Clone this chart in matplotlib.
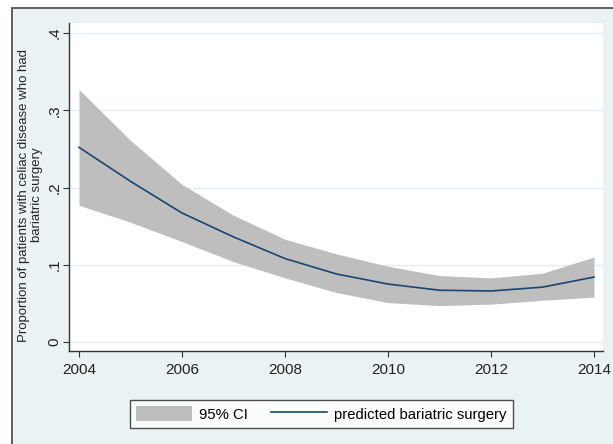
import matplotlib.pyplot as plt
from matplotlib.patches import Rectangle

plt.rcParams['font.family'] = ['Liberation Sans', 'DejaVu Sans']

# Predicted proportion and 95% CI
years = [2004, 2005, 2006, 2007, 2008, 2009, 2010, 2011, 2012, 2013, 2014]
predicted = [0.252, 0.208, 0.167, 0.136, 0.108, 0.088, 0.075, 0.067, 0.066, 0.071, 0.084]
ci_upper = [0.327, 0.261, 0.204, 0.164, 0.133, 0.114, 0.098, 0.086, 0.083, 0.089, 0.110]
ci_lower = [0.177, 0.155, 0.130, 0.104, 0.083, 0.064, 0.051, 0.047, 0.049, 0.054, 0.058]

y_ticks = [0, 0.1, 0.2, 0.3, 0.4]
y_tick_labels = ['0', '.1', '.2', '.3', '.4']
x_ticks = [2004, 2006, 2008, 2010, 2012, 2014]

bg = '#eaf2f3'
fig = plt.figure(figsize=(6.13, 4.44), dpi=100)
fig.patch.set_facecolor('white')

# Stata-style outer graph region, behind the axes
outer = Rectangle((12 / 613, -0.01), 1.0, 1 - 8 / 444 + 0.01,
                  transform=fig.transFigure, facecolor=bg,
                  edgecolor='#444444', linewidth=1.2, zorder=-5)
fig.add_artist(outer)

ax = fig.add_axes([69 / 613, 1 - 351 / 444, (603 - 69) / 613, (351 - 23) / 444])
ax.set_zorder(1)
ax.set_facecolor('white')

ax.fill_between(years, ci_lower, ci_upper, color='#bebebe', linewidth=0,
                label='95% CI', zorder=2)
ax.plot(years, predicted, color='#1a476f', linewidth=1.2,
        label='predicted bariatric surgery', zorder=3)

ax.set_xlim(2003.806, 2014.175)
ax.set_ylim(-0.0117, 0.413)
ax.set_xticks(x_ticks)
ax.set_yticks(y_ticks)
ax.set_yticklabels(y_tick_labels, rotation=90, va='center')
ax.tick_params(axis='both', labelsize=11, color='#333333', length=4.3,
               labelcolor='#222222')
ax.tick_params(axis='y', pad=1.0)
ax.tick_params(axis='x', pad=4.5)

ax.grid(axis='y', color='#e3eef0', linewidth=1, zorder=1)
ax.set_axisbelow(True)
for side in ['top', 'right']:
    ax.spines[side].set_visible(False)
for side in ['left', 'bottom']:
    ax.spines[side].set_color('#333333')
    ax.spines[side].set_linewidth(1)

ax.set_ylabel('Proportion of patients with celiac disease who had\nbariatric surgery',
              fontsize=9.5, color='#222222', linespacing=1.2,
              va='center', multialignment='center')
ax.yaxis.set_label_coords(-0.072, 0.4756)

leg = fig.legend(loc='center', bbox_to_anchor=(0.524, 0.0676), ncol=2,
                 frameon=True, fancybox=False, fontsize=10.7,
                 handlelength=3.75, handleheight=1.1, columnspacing=1.6,
                 handletextpad=0.45, borderpad=0.45, borderaxespad=0)
leg.get_frame().set_edgecolor('#222222')
leg.get_frame().set_linewidth(1)
leg.get_frame().set_facecolor('white')

fig.savefig('out.png', dpi=100, facecolor=fig.get_facecolor())
